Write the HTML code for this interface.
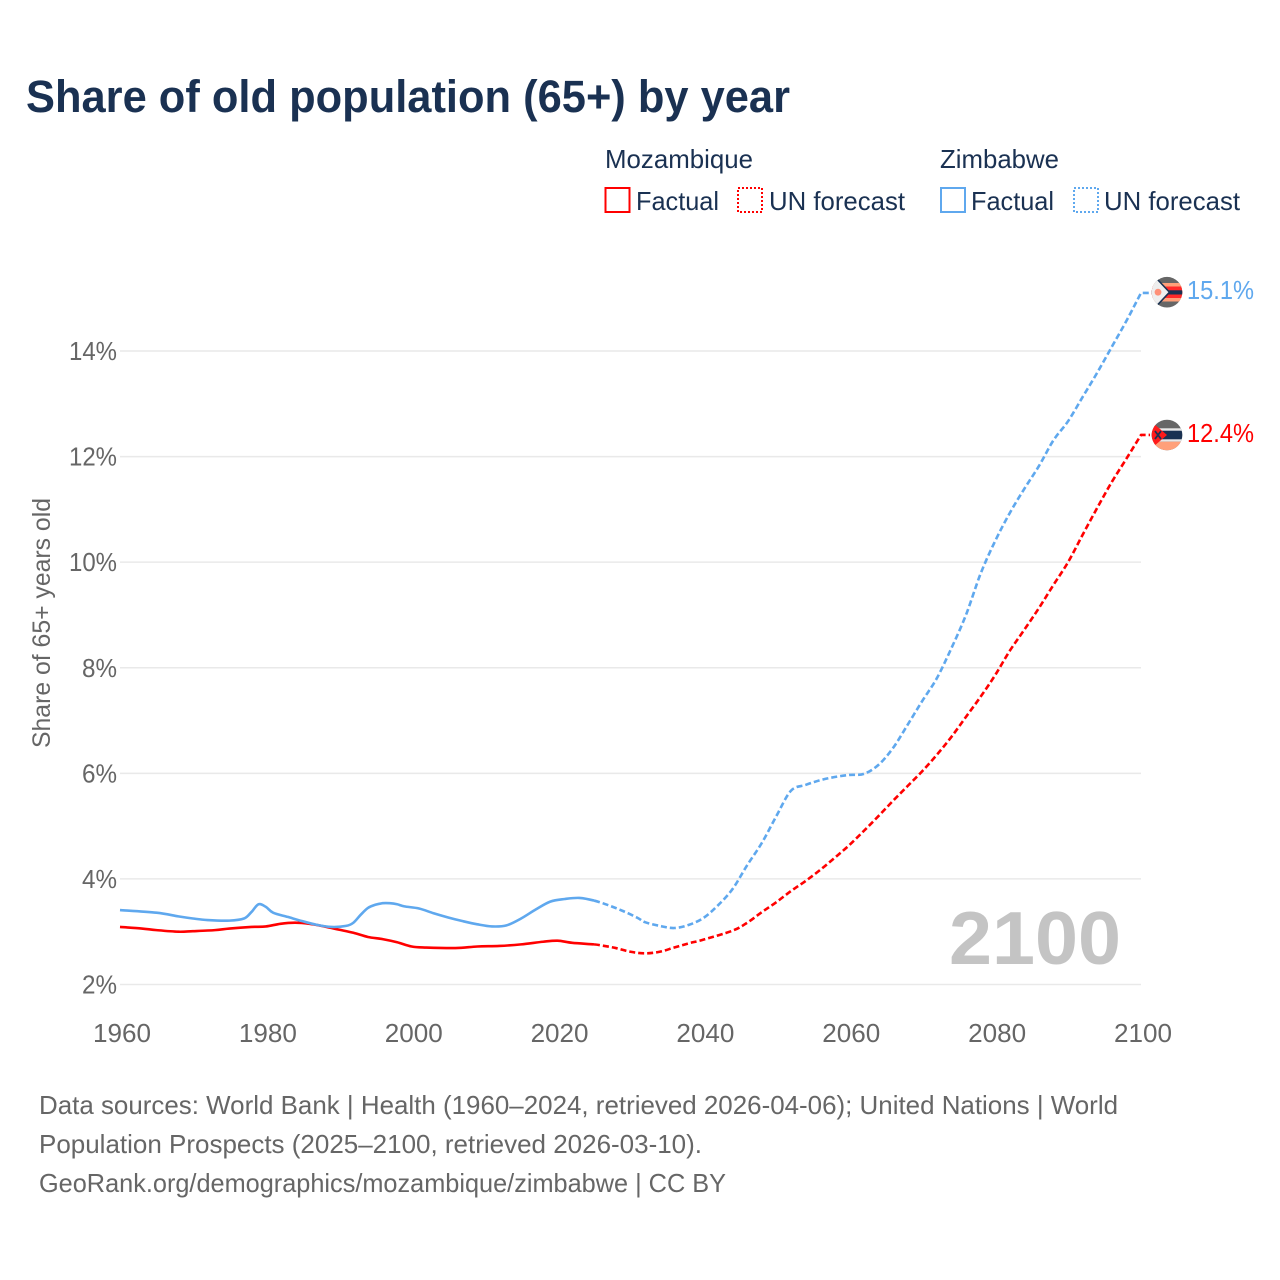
<!DOCTYPE html>
<html lang="en">
<head>
<meta charset="utf-8">
<title>Share of old population (65+) by year</title>
<style>
html,body{margin:0;padding:0;background:#fff}
svg{display:block}
text{font-family:"Liberation Sans",sans-serif}
</style>
</head>
<body>
<svg id="chart" xmlns="http://www.w3.org/2000/svg" width="1280" height="1280" viewBox="0 0 1280 1280">
<defs>
<clipPath id="clip-zim"><circle cx="1167" cy="292.2" r="15.3"/></clipPath>
<clipPath id="clip-moz"><circle cx="1167" cy="435" r="15.3"/></clipPath>
</defs>
<rect width="1280" height="1280" fill="#fff"/>
<text x="26" y="112" font-size="45" font-weight="700" fill="#1a3152" textLength="764" lengthAdjust="spacingAndGlyphs">Share of old population (65+) by year</text>

<g fill="#1a3152" font-size="26">
<text x="605" y="168" textLength="148" lengthAdjust="spacingAndGlyphs">Mozambique</text>
<text x="940" y="168" textLength="119" lengthAdjust="spacingAndGlyphs">Zimbabwe</text>
<rect x="605.5" y="188" width="24" height="24" fill="none" stroke="#ff0000" stroke-width="2"/>
<text x="636" y="210" textLength="83" lengthAdjust="spacingAndGlyphs">Factual</text>
<rect x="738" y="188" width="24" height="24" fill="none" stroke="#ff0000" stroke-width="2" stroke-dasharray="2 2"/>
<text x="769" y="210" textLength="136" lengthAdjust="spacingAndGlyphs">UN forecast</text>
<rect x="941" y="188" width="24" height="24" fill="none" stroke="#5fa8ee" stroke-width="2"/>
<text x="971" y="210" textLength="83" lengthAdjust="spacingAndGlyphs">Factual</text>
<rect x="1074" y="188" width="24" height="24" fill="none" stroke="#5fa8ee" stroke-width="2" stroke-dasharray="2 2"/>
<text x="1104" y="210" textLength="136" lengthAdjust="spacingAndGlyphs">UN forecast</text>
</g>

<g id="grid"></g>
<g id="y-ticks"></g>
<g id="x-ticks"></g>
<text transform="translate(50,748) rotate(-90)" font-size="25" fill="#666" textLength="250" lengthAdjust="spacingAndGlyphs">Share of 65+ years old</text>
<text x="949" y="964" font-size="75" font-weight="700" fill="#c4c4c4" textLength="172" lengthAdjust="spacingAndGlyphs">2100</text>
<g id="series"></g>

<g clip-path="url(#clip-zim)">
<rect x="1150" y="275" width="34" height="34" fill="#666"/>
<rect x="1150" y="283" width="34" height="18.5" fill="#ffa07a"/>
<rect x="1150" y="286.5" width="34" height="11.5" fill="#ff2a2a"/>
<rect x="1150" y="290.3" width="34" height="4.2" fill="#1a3152"/>
<polygon points="1150,279 1157,279 1169.5,292.2 1157,305.5 1150,305.5" fill="#eeeeee" stroke="#1a3152" stroke-width="1.6"/>
<circle cx="1158" cy="292.2" r="3.4" fill="#ff9078"/>
</g>
<g clip-path="url(#clip-moz)">
<rect x="1150" y="418" width="34" height="34" fill="#666"/>
<rect x="1150" y="428.3" width="34" height="13.4" fill="#e8e8e8"/>
<rect x="1150" y="430.7" width="34" height="8.6" fill="#1a3152"/>
<rect x="1150" y="441.7" width="34" height="10" fill="#ffa07a"/>
<polygon points="1150,423 1153,423 1167,435 1153,447 1150,447" fill="#ff1a1a"/>
<path d="M1155 431 L1161 439 M1161 431 L1155 439" stroke="#1a3152" stroke-width="1.8"/>
</g>
<text x="1187" y="299" font-size="26" fill="#5fa8ee" textLength="67" lengthAdjust="spacingAndGlyphs">15.1%</text>
<text x="1187" y="442" font-size="26" fill="#ff0000" textLength="67" lengthAdjust="spacingAndGlyphs">12.4%</text>

<g font-size="26" fill="#666">
<text x="39" y="1114" textLength="1079" lengthAdjust="spacingAndGlyphs">Data sources: World Bank | Health (1960–2024, retrieved 2026-04-06); United Nations | World</text>
<text x="39" y="1153" textLength="663" lengthAdjust="spacingAndGlyphs">Population Prospects (2025–2100, retrieved 2026-03-10).</text>
<text x="39" y="1192" textLength="687" lengthAdjust="spacingAndGlyphs">GeoRank.org/demographics/mozambique/zimbabwe | CC BY</text>
</g>
</svg>
<script>
const xTickYears = [1960, 1980, 2000, 2020, 2040, 2060, 2080, 2100];
const yTickValues = [2, 4, 6, 8, 10, 12, 14];
const lastFactualYear = 2025;

const mozYears = [1960,1963,1965,1968,1970,1973,1975,1978,1980,1982,1984,1986,1988,1990,1992,1994,1996,1998,2000,2002,2006,2009,2012,2015,2018,2020,2022,2025,2026,2028,2030,2032,2034,2036,2038,2040,2044,2046,2048,2050,2052,2054,2056,2058,2060,2062,2064,2066,2068,2070,2072,2074,2076,2078,2080,2082,2084,2086,2088,2090,2092,2094,2096,2098,2100];
const mozValues = [3.09,3.06,3.03,3.0,3.01,3.03,3.06,3.09,3.1,3.15,3.17,3.15,3.1,3.04,2.98,2.9,2.86,2.8,2.72,2.7,2.69,2.72,2.73,2.76,2.81,2.83,2.79,2.76,2.74,2.69,2.62,2.59,2.62,2.7,2.78,2.85,3.02,3.17,3.37,3.56,3.77,3.96,4.17,4.4,4.64,4.91,5.19,5.48,5.76,6.04,6.35,6.69,7.07,7.45,7.86,8.32,8.72,9.13,9.57,10.0,10.52,11.03,11.52,11.96,12.41];

const zimYears = [1960,1965,1968,1970,1972,1975,1977,1978,1979,1980,1981,1983,1985,1987,1989,1991,1992,1993,1994,1995,1996,1997,1998,1999,2001,2003,2005,2007,2009,2011,2013,2015,2017,2019,2021,2023,2025,2027,2029,2031,2032,2034,2036,2038,2040,2042,2044,2046,2048,2050,2052,2054,2056,2058,2060,2062,2064,2066,2068,2070,2072,2074,2076,2078,2080,2082,2084,2086,2088,2090,2092,2094,2096,2098,2100];
const zimValues = [3.41,3.36,3.29,3.25,3.22,3.21,3.25,3.37,3.52,3.47,3.36,3.28,3.2,3.13,3.09,3.11,3.17,3.32,3.45,3.51,3.54,3.54,3.52,3.48,3.44,3.35,3.27,3.2,3.14,3.1,3.12,3.25,3.42,3.57,3.62,3.64,3.59,3.5,3.39,3.26,3.18,3.11,3.07,3.13,3.26,3.5,3.81,4.26,4.68,5.19,5.67,5.78,5.87,5.93,5.97,5.99,6.16,6.48,6.92,7.37,7.8,8.37,9.0,9.78,10.4,10.93,11.39,11.82,12.31,12.67,13.13,13.59,14.08,14.57,15.1];

const SVGNS = 'http://www.w3.org/2000/svg';
const xScale = function (year) { return 120 + (year - 1960) * (1021 / 140); };
const yScale = function (value) { return 984.5 - (value - 2) * (633.5 / 12); };

function svgEl(tag) { return document.createElementNS(SVGNS, tag); }

const grid = document.getElementById('grid');
const yTicks = document.getElementById('y-ticks');
yTickValues.forEach(function (v) {
  const line = svgEl('line');
  
  
  line.setAttribute('x1', xScale(1960));
  line.setAttribute('x2', xScale(2100));
  line.setAttribute('y1', yScale(v));
  line.setAttribute('y2', yScale(v));
  line.setAttribute('stroke', '#e9e9e9');
  line.setAttribute('stroke-width', '1.5');
  grid.appendChild(line);
  const label = svgEl('text');
  
  
  label.setAttribute('x', v < 10 ? 82 : 69);
  label.setAttribute('y', yScale(v) + 9);
  label.setAttribute('font-size', '26');
  label.setAttribute('fill', '#666');
  label.setAttribute('textLength', v < 10 ? 35 : 48);
  label.setAttribute('lengthAdjust', 'spacingAndGlyphs');
  label.textContent = v + '%';
  yTicks.appendChild(label);
});

const xTicks = document.getElementById('x-ticks');
xTickYears.forEach(function (year) {
  const label = svgEl('text');
  
  
  label.setAttribute('x', xScale(year) - 27);
  label.setAttribute('y', 1042);
  label.setAttribute('font-size', '26');
  label.setAttribute('fill', '#666');
  label.setAttribute('textLength', 58);
  label.setAttribute('lengthAdjust', 'spacingAndGlyphs');
  label.textContent = year;
  xTicks.appendChild(label);
});

// Smooth Catmull-Rom path through the points whose years fall in [from, to].
function pathFor(years, values, from, to, extend) {
  const px = years.map(xScale);
  const py = values.map(yScale);
  const last = years.length - 1;
  let d = '';
  for (let i = 0; i < last; i++) {
    if (years[i] < from || years[i + 1] > to) continue;
    if (!d) d = 'M' + px[i].toFixed(2) + ' ' + py[i].toFixed(2);
    const p = Math.max(i - 1, 0);
    const n = Math.min(i + 2, last);
    const c1x = px[i] + (px[i + 1] - px[p]) / 6;
    const c1y = py[i] + (py[i + 1] - py[p]) / 6;
    const c2x = px[i + 1] - (px[n] - px[i]) / 6;
    const c2y = py[i + 1] - (py[n] - py[i]) / 6;
    d += 'C' + c1x.toFixed(2) + ' ' + c1y.toFixed(2) + ' ' + c2x.toFixed(2) + ' ' + c2y.toFixed(2) + ' ' + px[i + 1].toFixed(2) + ' ' + py[i + 1].toFixed(2);
  }
  if (extend) {
    d += 'L' + (px[last] + 9).toFixed(2) + ' ' + py[last].toFixed(2);
  }
  return d;
}

const series = document.getElementById('series');
function drawSeries(key, years, values, color) {
  const factual = svgEl('path');
  
  
  factual.setAttribute('d', pathFor(years, values, 1960, lastFactualYear, false));
  factual.setAttribute('fill', 'none');
  factual.setAttribute('stroke', color);
  factual.setAttribute('stroke-width', '2.6');
  factual.setAttribute('stroke-linejoin', 'round');
  series.appendChild(factual);
  const forecast = svgEl('path');
  
  
  forecast.setAttribute('d', pathFor(years, values, lastFactualYear, 2100, true));
  forecast.setAttribute('fill', 'none');
  forecast.setAttribute('stroke', color);
  forecast.setAttribute('stroke-width', '2.6');
  forecast.setAttribute('stroke-linejoin', 'round');
  forecast.setAttribute('stroke-dasharray', '6 3');
  series.appendChild(forecast);
}
drawSeries('mozambique', mozYears, mozValues, '#ff0000');
drawSeries('zimbabwe', zimYears, zimValues, '#5fa8ee');
</script>
</body>
</html>
